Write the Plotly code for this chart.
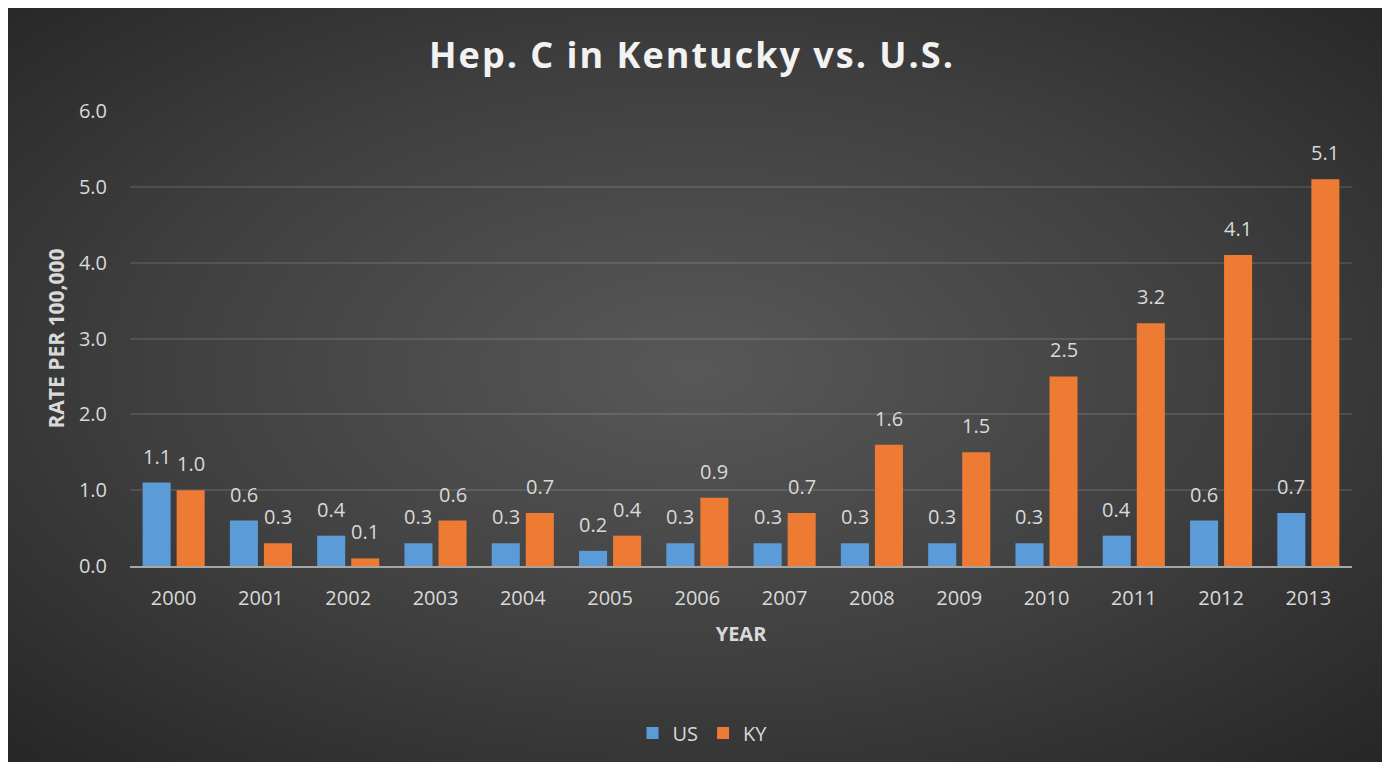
import base64
import plotly.graph_objects as go

years = ["2000", "2001", "2002", "2003", "2004", "2005", "2006",
         "2007", "2008", "2009", "2010", "2011", "2012", "2013"]
us_rate = [1.1, 0.6, 0.4, 0.3, 0.3, 0.2, 0.3, 0.3, 0.3, 0.3, 0.3, 0.4, 0.6, 0.7]
ky_rate = [1.0, 0.3, 0.1, 0.6, 0.7, 0.4, 0.9, 0.7, 1.6, 1.5, 2.5, 3.2, 4.1, 5.1]
y_ticks = [0, 1, 2, 3, 4, 5, 6]

FONT = "Open Sans"
TXT = "#d9d9d9"

# page body adds an 8px offset; layout is expressed in figure pixels
W, H = 1390, 769
L, R, T, B = 122, 46, 103, 211
pw = W - L - R
ph = H - T - B
BARGAP = 0.22

def px_x(p):
    return (p - L) / pw

def px_y(q):
    return (H - B - q) / ph

svg = (
    '<svg xmlns="http://www.w3.org/2000/svg" width="1375" height="756" preserveAspectRatio="none">'
    '<defs><radialGradient id="g" cx="50%" cy="48%" r="72%" fx="50%" fy="48%">'
    '<stop offset="0%" stop-color="#585858"/>'
    '<stop offset="55%" stop-color="#3f3f3f"/>'
    '<stop offset="100%" stop-color="#262626"/>'
    '</radialGradient></defs>'
    '<rect width="1375" height="756" fill="url(#g)"/></svg>'
)
uri = "data:image/svg+xml;base64," + base64.b64encode(svg.encode()).decode()

fig = go.Figure()
fig.add_trace(go.Bar(name="US", x=years, y=us_rate,
                     marker=dict(color="#5a9bd8", line=dict(width=0))))
fig.add_trace(go.Bar(name="KY", x=years, y=ky_rate,
                     marker=dict(color="#ee7b34", line=dict(width=0))))

slot_shift = (1 - BARGAP) * (pw / len(years)) / 4
for series, sign in ((us_rate, -1), (ky_rate, 1)):
    for i, v in enumerate(series):
        fig.add_annotation(
            x=i, y=v, xref="x", yref="y", text=f"{v:.1f}", showarrow=False,
            xshift=sign * slot_shift, yshift=11, yanchor="bottom",
            font=dict(family=FONT, size=20, color=TXT),
        )

fig.update_layout(
    width=W, height=H,
    margin=dict(l=L, r=R, t=T, b=B, autoexpand=False),
    paper_bgcolor="white",
    plot_bgcolor="rgba(0,0,0,0)",
    barmode="group", bargap=BARGAP, bargroupgap=0.176,
    font=dict(family=FONT, color=TXT),
    title=dict(
        text='<span style="letter-spacing:2px"><b>Hep. C in Kentucky vs. U.S.</b></span>',
        x=(692 - 8) / W, xanchor="center", xref="container",
        y=1 - 47 / H, yanchor="middle",
        font=dict(family=FONT, size=36, color="#f2f2f2"),
    ),
    xaxis=dict(
        type="category", categoryorder="array", categoryarray=years,
        range=[-0.5, len(years) - 0.5],
        showgrid=False, showline=True, linecolor="#a6a6a6", linewidth=2,
        ticks="outside", ticklen=13, tickcolor="rgba(0,0,0,0)",
        tickfont=dict(family=FONT, size=20, color=TXT),
        title=dict(text="<b>YEAR</b>", font=dict(family=FONT, size=20, color=TXT), standoff=17),
        zeroline=False,
    ),
    yaxis=dict(
        range=[0, 6], tickvals=y_ticks, tickformat=".1f",
        showgrid=True, gridcolor="rgba(255,255,255,0.11)", gridwidth=1.5,
        zeroline=False, showline=False,
        ticks="outside", ticklen=18, tickcolor="rgba(0,0,0,0)",
        tickfont=dict(family=FONT, size=20, color=TXT),
        title=dict(text="<b>RATE PER 100,000</b>", font=dict(family=FONT, size=21, color=TXT), standoff=8),
    ),
    legend=dict(
        orientation="h", x=0.4685, xanchor="center", xref="paper",
        y=px_y(733 - 8), yanchor="middle",
        font=dict(family=FONT, size=20, color=TXT),
        bgcolor="rgba(0,0,0,0)", itemwidth=30,
    ),
    images=[dict(
        source=uri, xref="paper", yref="paper",
        x=px_x(-1), y=px_y(-2), sizex=px_x(1374) - px_x(-1), sizey=px_y(-2) - px_y(754),
        xanchor="left", yanchor="top", sizing="stretch", layer="below",
    )],
)

fig.write_html("out.html")
